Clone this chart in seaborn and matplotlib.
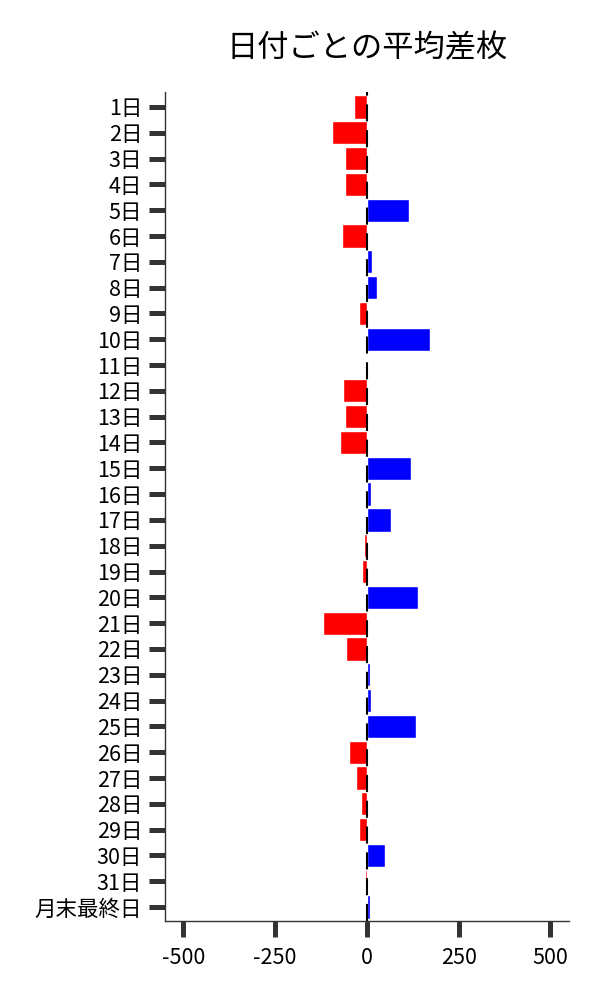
import pandas as pd
import seaborn as sns
import matplotlib.pyplot as plt

# day labels and average difference per day
days = [f"{i}日" for i in range(1, 32)] + ["月末最終日"]
avg_diff = [-35, -96, -60, -60, 114, -68, 13, 27, -22, 171,
            -2, -65, -60, -73, 121, 10, 65, -8, -14, 138,
            -119, -57, 8, 11, 133, -49, -30, -16, -22, 49,
            -5, 8]
x_ticks = [-500, -250, 0, 250, 500]

df = pd.DataFrame({"day": days, "diff": avg_diff})
df["sign"] = ["plus" if v >= 0 else "minus" for v in df["diff"]]

sns.set_theme(style="ticks")
plt.rcParams['font.family'] = ['Noto Sans CJK JP', 'DejaVu Sans']

fig, ax = plt.subplots(figsize=(6, 10), dpi=100)
fig.subplots_adjust(left=0.275, right=0.948, top=0.908, bottom=0.079)

sns.barplot(data=df, x="diff", y="day", hue="sign", dodge=False,
            palette={"plus": "#0000ff", "minus": "#ff0000"},
            saturation=1, width=0.9, legend=False, ax=ax)
ax.axvline(0, color="black", lw=1.5, linestyle=(0, (8.2, 4.18)))

ax.set_xlim(-550, 550)
ax.set_ylim(len(days) - 0.46, -0.58)
ax.set_xticks(x_ticks)
ax.set_xticklabels([str(t) for t in x_ticks])
ax.set_xlabel("")
ax.set_ylabel("")
ax.tick_params(axis="both", length=11.5, width=3.6, color="#333333",
               labelsize=15.5, labelcolor="black")
ax.tick_params(axis="x", pad=7)
ax.tick_params(axis="y", pad=5)
sns.despine(ax=ax)
ax.spines["left"].set_linewidth(1.0)
ax.spines["bottom"].set_linewidth(1.0)
ax.spines["left"].set_color("#333333")
ax.spines["bottom"].set_color("#333333")
ax.set_title("日付ごとの平均差枚", fontsize=22.5, pad=25, color="black")

fig.savefig("out.png", dpi=100)
